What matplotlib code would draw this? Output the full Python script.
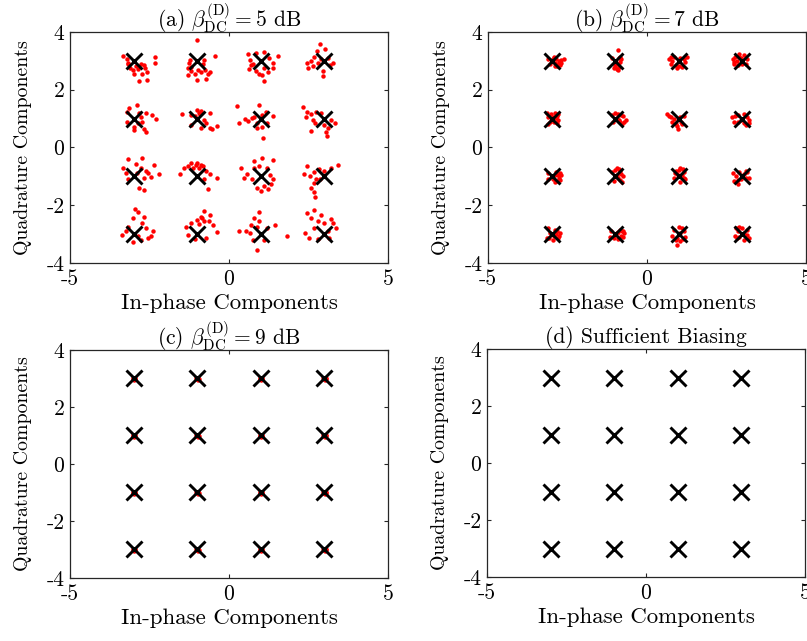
import numpy as np
import matplotlib
matplotlib.use("Agg")
import matplotlib.pyplot as plt

plt.rcParams['font.family'] = 'serif'
plt.rcParams['font.serif'] = ['cmr10', 'DejaVu Serif']
plt.rcParams['mathtext.fontset'] = 'cm'
plt.rcParams['axes.unicode_minus'] = False

# 16-QAM ideal points
levels = [-3, -1, 1, 3]
ideal_i = [i for q in [3, 1, -1, -3] for i in levels]
ideal_q = [q for q in [3, 1, -1, -3] for i in levels]

titles = [r'(a) $\beta_{\rm DC}^{\rm (D)} = 5$ dB',
          r'(b) $\beta_{\rm DC}^{\rm (D)} = 7$ dB',
          r'(c) $\beta_{\rm DC}^{\rm (D)} = 9$ dB',
          '(d) Sufficient Biasing']

# received-symbol offsets (dI, dQ) around each ideal point
# cluster order: Q = 3, 1, -1, -3 (rows), I = -3, -1, 1, 3 (cols)
noise_a = [
    [(-0.33, 0.16), (-0.21, 0.06), (-0.16, -0.11), (-0.11, -0.25), (-0.01, -0.32), (0.13, -0.29),
     (0.23, -0.11), (0.32, -0.15), (0.37, -0.23), (0.42, -0.40), (0.42, -0.67), (0.16, -0.71),
     (0.68, 0.14), (0.68, -0.06), (0.02, -0.44), (0.28, -0.44), (0.07, -0.17), (-0.19, -0.06)],
    [(0.00, 0.72), (0.57, 0.18), (-0.22, 0.04), (-0.29, -0.23), (-0.19, -0.34), (-0.29, -0.48),
     (-0.08, -0.44), (0.02, -0.32), (0.13, -0.40), (0.25, -0.32), (0.34, -0.46), (0.39, -0.37),
     (0.28, -0.63), (0.00, -0.67), (-0.19, -0.21), (0.18, -0.11), (-0.27, -0.06), (0.23, 0.02)],
    [(-0.39, 0.23), (-0.16, 0.28), (0.11, 0.29), (0.53, 0.17), (-0.34, 0.02), (-0.23, -0.11),
     (-0.37, -0.29), (-0.16, -0.34), (-0.05, -0.46), (0.11, -0.71), (0.23, -0.40), (0.37, -0.23),
     (0.37, -0.06), (0.26, 0.11), (0.11, -0.23), (0.05, -0.48), (-0.31, -0.14)],
    [(-0.13, 0.57), (0.03, 0.40), (-0.23, 0.34), (-0.32, 0.14), (-0.53, -0.06), (-0.51, -0.23),
     (-0.37, -0.17), (-0.21, -0.06), (-0.03, -0.54), (-0.05, -0.34), (0.19, -0.15), (0.26, -0.06),
     (0.13, 0.11), (-0.42, -0.02), (-0.10, 0.06)],
    [(-0.14, 0.36), (0.11, 0.47), (-0.21, 0.24), (0.39, 0.21), (0.58, 0.13), (0.72, -0.01),
     (0.23, 0.07), (0.28, -0.10), (0.13, -0.16), (0.00, -0.28), (0.02, -0.39), (0.39, -0.45),
     (0.34, -0.37), (-0.21, -0.10), (0.18, 0.18)],
    [(-0.47, 0.16), (0.00, 0.30), (0.13, 0.28), (0.39, 0.21), (-0.19, 0.13), (0.23, -0.05),
     (0.28, -0.16), (-0.19, -0.22), (0.13, -0.33), (0.39, -0.33), (0.46, -0.37), (0.63, -0.24),
     (-0.08, 0.10), (0.05, 0.20), (0.10, 0.15)],
    [(-0.74, 0.44), (-0.07, 0.47), (0.16, 0.24), (0.37, 0.09), (-0.51, -0.02), (-0.68, -0.14),
     (-0.40, -0.07), (-0.21, 0.07), (-0.11, -0.16), (0.05, -0.28), (-0.11, -0.33), (0.21, -0.16),
     (0.07, -0.68), (-0.26, 0.03), (0.05, 0.12)],
    [(-0.67, 0.39), (-0.53, 0.24), (-0.42, 0.16), (-0.26, 0.24), (-0.11, 0.18), (-0.58, 0.07),
     (-0.37, -0.05), (-0.29, -0.16), (0.00, -0.22), (0.11, -0.33), (0.05, -0.45), (0.08, -0.60),
     (-0.42, -0.43), (0.35, -0.16), (0.21, -0.05)],
    [(-0.16, 0.59), (0.28, 0.64), (0.07, 0.44), (-0.32, 0.28), (-0.24, 0.13), (0.23, 0.28),
     (0.39, 0.18), (0.65, 0.39), (0.81, 0.09), (0.55, -0.02), (0.46, 0.13), (0.34, -0.07),
     (0.18, -0.39), (0.32, -0.48), (-0.19, -0.10), (0.10, 0.10)],
    [(-0.19, 0.47), (0.00, 0.47), (0.13, 0.41), (-0.29, 0.36), (-0.42, 0.28), (-0.53, 0.09),
     (0.28, 0.18), (0.39, 0.09), (0.23, -0.10), (0.63, -0.07), (0.34, -0.45), (-0.14, 0.30),
     (0.07, 0.28), (0.18, 0.35), (-0.05, 0.40)],
    [(-0.21, 0.53), (0.05, 0.64), (0.37, 0.55), (-0.61, 0.30), (-0.44, 0.09), (-0.53, -0.05),
     (-0.29, -0.10), (-0.21, 0.28), (-0.05, 0.36), (0.21, 0.28), (0.29, 0.05), (0.40, -0.10),
     (0.32, -0.28), (0.11, -0.33), (-0.11, -0.41), (0.02, -0.51), (0.23, -0.45)],
    [(-0.53, 0.36), (0.42, 0.39), (0.21, 0.28), (-0.63, 0.09), (-0.44, 0.01), (-0.32, 0.16),
     (-0.16, 0.24), (0.00, 0.18), (-0.26, -0.10), (-0.32, -0.22), (-0.42, -0.39), (-0.34, -0.54),
     (-0.29, -0.70), (-0.13, -0.10)],
    [(0.05, 0.87), (0.13, 0.76), (-0.03, 0.55), (0.34, 0.61), (-0.19, 0.26), (0.28, 0.38),
     (-0.24, 0.11), (-0.35, -0.02), (0.39, 0.21), (0.60, 0.11), (0.55, -0.08), (0.44, -0.14),
     (-0.03, -0.28), (0.23, -0.20), (0.15, -0.05)],
    [(0.23, 0.80), (0.39, 0.67), (0.13, 0.61), (0.00, 0.49), (0.23, 0.44), (0.36, 0.46),
     (-0.19, 0.38), (-0.35, 0.26), (0.49, 0.32), (0.63, 0.09), (-0.29, -0.02), (-0.08, -0.16),
     (0.28, -0.14), (0.07, 0.34), (0.15, 0.55)],
    [(-0.07, 0.78), (-0.21, 0.55), (-0.05, 0.44), (-0.32, 0.32), (-0.68, 0.11), (-0.47, 0.11),
     (-0.34, 0.03), (-0.11, 0.26), (0.21, 0.21), (0.44, 0.30), (-0.23, -0.20), (-0.11, -0.54),
     (0.11, -0.20), (0.84, -0.06)],
    [(-0.55, 0.72), (-0.32, 0.84), (-0.42, 0.55), (-0.11, 0.67), (-0.21, 0.46), (-0.02, 0.38),
     (0.21, 0.53), (0.26, 0.38), (0.37, 0.21), (-0.61, 0.03), (-0.47, -0.14), (-0.21, -0.16),
     (0.16, -0.14), (-0.32, 0.21), (0.10, 0.10)],
]

noise_b = [
    [(0.40, 0.06), (0.30, 0.02), (0.20, -0.10), (0.10, -0.18), (-0.05, -0.12), (0.15, 0.08), (0.05, 0.05), (0.25, -0.15), (-0.10, 0.05),
     (0.22, 0.00), (0.12, -0.06), (0.30, -0.08), (0.08, 0.12), (0.18, -0.18)],
    [(0.08, 0.38), (0.15, 0.15), (0.05, -0.28), (-0.05, -0.25), (0.12, -0.20), (0.18, 0.05), (-0.10, 0.10), (0.00, -0.12),
     (0.10, -0.10), (-0.02, -0.18), (0.08, -0.30), (0.15, -0.05), (0.12, 0.10)],
    [(-0.30, 0.08), (-0.25, -0.10), (-0.05, -0.25), (0.10, -0.20), (0.20, -0.05), (-0.15, 0.15), (0.05, 0.10), (0.25, 0.12),
     (-0.20, -0.02), (-0.10, -0.15), (0.15, 0.05), (-0.25, 0.15), (0.00, -0.18)],
    [(-0.30, 0.05), (-0.25, -0.12), (-0.10, 0.25), (0.05, 0.20), (-0.15, -0.15), (0.10, -0.12), (0.15, 0.05), (-0.05, 0.10),
     (-0.22, 0.12), (-0.18, -0.02), (-0.10, 0.15), (0.00, -0.10), (-0.25, -0.05)],
    [(0.20, 0.15), (0.18, -0.15), (-0.15, 0.18), (-0.10, -0.20), (0.05, 0.05), (0.15, 0.02), (-0.05, -0.10), (0.10, 0.20),
     (0.18, 0.08), (-0.12, 0.05), (0.08, -0.12), (0.20, -0.05), (-0.02, 0.15)],
    [(0.35, -0.05), (0.25, 0.08), (0.10, 0.15), (-0.10, 0.12), (0.15, -0.12), (-0.08, -0.10), (0.20, -0.18), (0.05, 0.02),
     (0.28, -0.10), (0.18, 0.12), (0.12, -0.05), (0.00, 0.18)],
    [(-0.37, 0.15), (-0.25, 0.05), (-0.20, -0.10), (-0.02, -0.35), (0.10, -0.20), (0.15, 0.10), (-0.10, -0.18), (0.05, 0.05),
     (-0.30, 0.08), (-0.15, 0.00), (-0.05, -0.25), (0.08, -0.10)],
    [(-0.32, 0.05), (-0.25, -0.10), (0.20, -0.15), (0.10, -0.22), (-0.15, 0.12), (0.05, 0.15), (0.15, 0.05), (-0.05, -0.05),
     (-0.22, 0.10), (-0.15, -0.12), (0.20, -0.05), (0.05, -0.15)],
    [(0.30, 0.05), (0.25, -0.12), (0.15, 0.15), (-0.10, 0.12), (0.10, -0.20), (-0.12, -0.10), (0.20, 0.05), (0.05, -0.08),
     (0.22, -0.05), (0.15, -0.15), (0.12, 0.05), (0.25, 0.10)],
    [(0.05, 0.30), (0.15, 0.20), (0.25, 0.00), (0.20, -0.18), (-0.10, 0.15), (-0.05, -0.15), (0.10, -0.05), (0.05, 0.05),
     (0.12, 0.25), (0.18, 0.08), (-0.02, 0.22), (0.15, -0.12)],
    [(0.05, 0.30), (-0.10, 0.20), (0.15, 0.15), (0.20, -0.10), (-0.15, -0.05), (0.05, -0.18), (0.10, 0.05), (-0.05, 0.08),
     (0.00, 0.22), (0.12, 0.25), (-0.12, 0.10), (0.15, -0.05)],
    [(-0.30, 0.10), (-0.25, -0.15), (-0.15, -0.25), (0.10, 0.20), (0.20, -0.05), (-0.05, -0.10), (0.05, 0.08), (0.15, 0.15),
     (-0.20, 0.02), (-0.15, -0.12), (-0.10, 0.15), (0.10, -0.05)],
    [(0.25, 0.05), (0.20, -0.15), (-0.10, 0.20), (0.10, 0.15), (-0.15, -0.12), (0.05, -0.20), (0.15, 0.00), (-0.05, 0.05),
     (0.18, 0.12), (0.08, -0.08), (0.22, -0.05), (-0.08, -0.15)],
    [(0.28, 0.05), (0.25, -0.10), (0.15, 0.15), (-0.12, 0.12), (0.10, -0.18), (-0.15, -0.10), (0.05, 0.05), (0.20, 0.10),
     (0.18, -0.05), (0.10, 0.08), (0.25, 0.12), (-0.05, -0.15)],
    [(-0.05, -0.38), (0.05, -0.25), (-0.15, 0.15), (0.10, 0.20), (0.20, -0.10), (-0.20, -0.05), (0.05, 0.05), (-0.05, -0.15),
     (0.00, 0.25), (0.15, 0.10), (-0.10, -0.20), (0.12, -0.18)],
    [(-0.20, 0.20), (-0.10, 0.25), (0.15, 0.15), (-0.22, -0.05), (0.20, -0.12), (0.05, -0.20), (0.05, 0.05), (-0.10, -0.10),
     (-0.15, 0.10), (0.00, 0.20), (0.15, -0.02), (-0.18, -0.15)],
]

noise_c = [[(0.04, 0.03), (-0.03, 0.02), (0.02, -0.04), (-0.02, -0.02), (0.05, -0.01)] for _ in range(16)]

panels = [noise_a, noise_b, noise_c, None]

fig = plt.figure(figsize=(8.07, 6.41), dpi=100)
boxes = [(0.0867, 0.5897, 0.394, 0.3604), (0.6047, 0.5897, 0.394, 0.3604),
         (0.0867, 0.0983, 0.394, 0.3557), (0.6035, 0.0998, 0.394, 0.3557)]
axcol = '#262626'

for k in range(4):
    ax = fig.add_axes(boxes[k])
    noise = panels[k]
    if noise is not None:
        xs, ys = [], []
        for c in range(16):
            for dx, dy in noise[c]:
                xs.append(ideal_i[c] + dx)
                ys.append(ideal_q[c] + dy)
        ax.plot(xs, ys, 'o', color='red', markersize=3.2, markeredgewidth=0, zorder=2)
    ax.plot(ideal_i, ideal_q, 'x', color='black', markersize=12, markeredgewidth=2.1, zorder=3)
    ax.set_xlim(-5, 5)
    ax.set_ylim(-4, 4)
    ax.set_xticks([-5, 0, 5], ['-5', '0', '5'])
    ax.set_yticks([-4, -2, 0, 2, 4], ['-4', '-2', '0', '2', '4'])
    ax.tick_params(direction='in', top=True, right=True, length=3, width=0.8,
                   labelsize=15.5, colors=axcol, labelcolor='black')
    ax.tick_params(axis='x', pad=5)
    ax.tick_params(axis='y', pad=4)
    for s in ax.spines.values():
        s.set_color(axcol)
        s.set_linewidth(0.9)
    ax.set_xlabel('In-phase Components', fontsize=16.5, labelpad=3)
    ax.set_ylabel('Quadrature Components', fontsize=14.3, labelpad=10)
    ax.set_title(titles[k], fontsize=15.5, pad=4)

fig.savefig('out.png', dpi=100)
